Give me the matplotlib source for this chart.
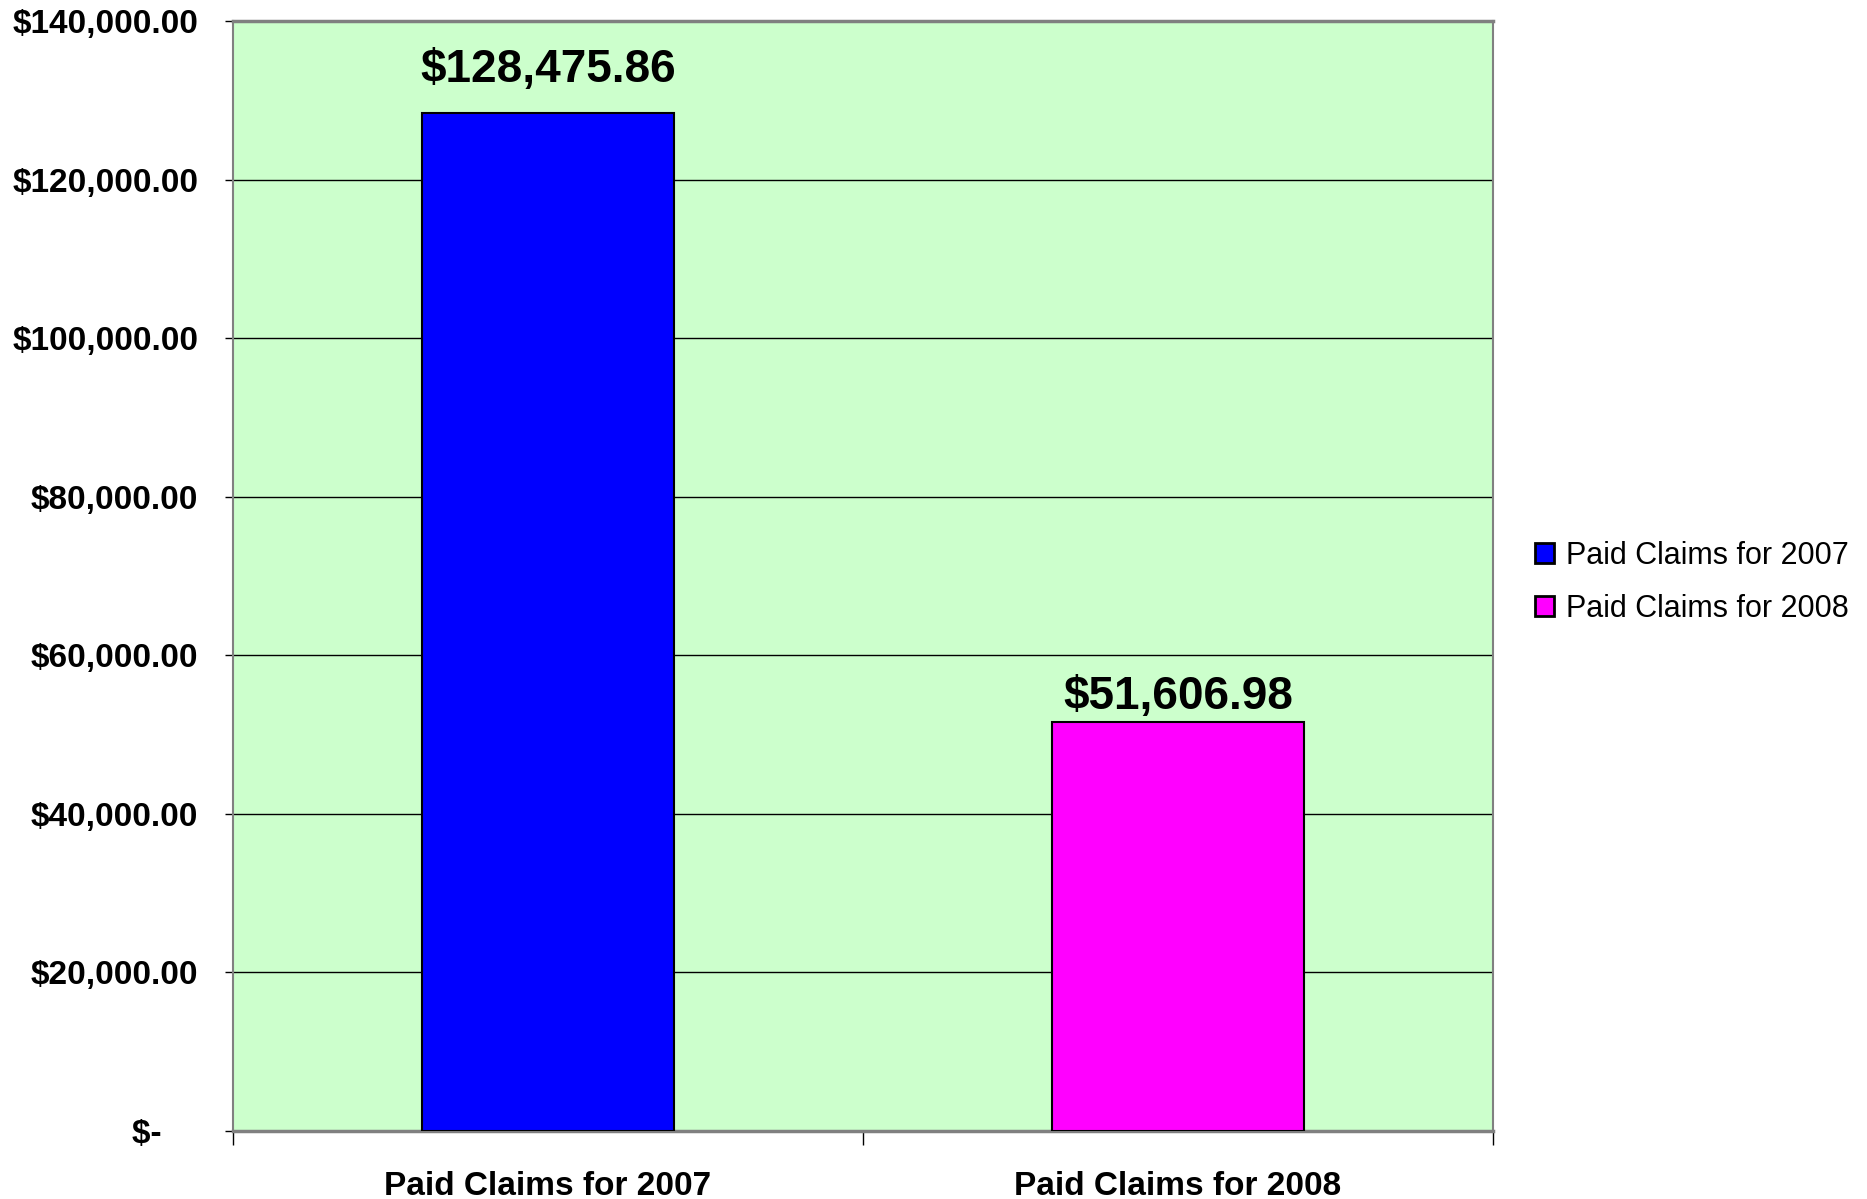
import matplotlib.pyplot as plt
import numpy as np
from matplotlib.patches import Patch

plt.rcParams['font.family'] = ['Liberation Sans', 'DejaVu Sans']

# Paid claims per year
categories = ["Paid Claims for 2007", "Paid Claims for 2008"]
paid_claims = [128475.86, 51606.98]
bar_colors = ["#0000FF", "#FF00FF"]
y_ticks = [0, 20000, 40000, 60000, 80000, 100000, 120000, 140000]


def money(v):
    if v == 0:
        return "$-    "
    return "${:,.2f}".format(v)


fig = plt.figure(figsize=(18.67, 11.99), dpi=100)
ax = fig.add_axes([0.1248, 0.0567, 0.6749, 0.9255])
ax.set_facecolor("#CCFFCC")

x = np.arange(len(categories))
bars = ax.bar(x, paid_claims, width=0.4, color=bar_colors,
              edgecolor="black", linewidth=1.5, zorder=3)

# value labels above the bars
label_gap = [15, 2]
for b, v, gap in zip(bars, paid_claims, label_gap):
    ax.annotate(money(v), (b.get_x() + b.get_width() / 2, v),
                xytext=(0, gap), textcoords="offset points",
                ha="center", va="bottom", fontsize=33, fontweight="bold")

ax.set_xlim(-0.5, 1.5)
ax.set_ylim(0, 140000)

ax.set_yticks(y_ticks)
ax.set_yticklabels([money(v) for v in y_ticks], fontsize=24, fontweight="bold")
ax.tick_params(axis="y", length=6, width=1, pad=19)
ax.yaxis.grid(True, color="black", linewidth=1, zorder=1)
ax.set_axisbelow(True)

# category boundaries get the tick marks, names sit in between
ax.set_xticks([-0.5, 0.5, 1.5])
ax.set_xticklabels([])
ax.tick_params(axis="x", which="major", length=10, width=1)
ax.set_xticks(x, minor=True)
ax.set_xticklabels(categories, minor=True, fontsize=24, fontweight="bold")
ax.tick_params(axis="x", which="minor", length=0, pad=29)

for side in ["left", "right", "top", "bottom"]:
    ax.spines[side].set_color("#808080")
    ax.spines[side].set_linewidth(1.5)
ax.spines["bottom"].set_linewidth(2.5)
ax.spines["top"].set_linewidth(2.5)

handles = [Patch(facecolor=c, edgecolor="black", linewidth=2) for c in bar_colors]
fig.legend(handles, categories, loc="center left",
           bbox_to_anchor=(0.822, 0.5145), frameon=False, fontsize=22,
           borderpad=0, borderaxespad=0,
           handlelength=0.62, handleheight=0.62, handletextpad=0.4,
           labelspacing=0.75)

fig.savefig("out.png", dpi=100)
